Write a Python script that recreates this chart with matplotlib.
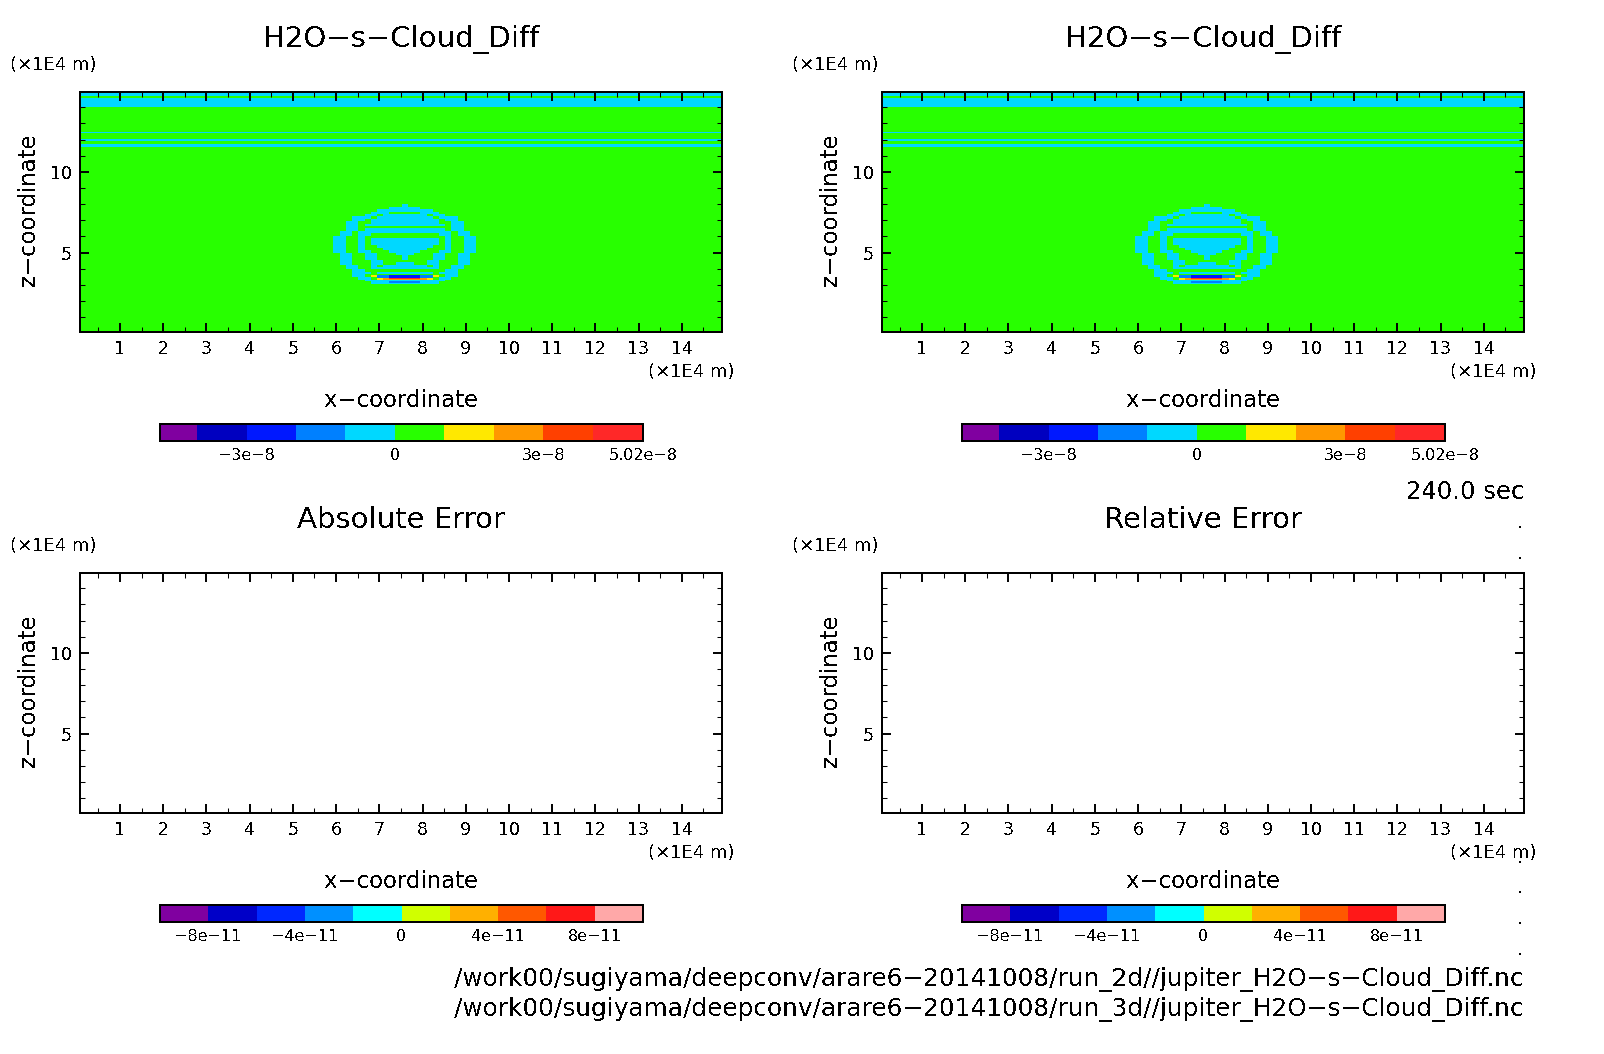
import numpy as np
import matplotlib
matplotlib.use('Agg')
import matplotlib.pyplot as plt
from matplotlib.cm import ScalarMappable
from matplotlib.colors import ListedColormap, BoundaryNorm
from matplotlib.ticker import FixedLocator

plt.rcParams['font.family'] = ['DejaVu Sans']
plt.rcParams['text.antialiased'] = False
plt.rcParams['lines.antialiased'] = False
plt.rcParams['patch.antialiased'] = False

W, H = 1604, 1054

# upper colour scale
levels_top = [-4.75e-8, -4e-8, -3e-8, -2e-8, -1e-8, 0, 1e-8, 2e-8, 3e-8, 4e-8, 5.02e-8]
colors_top = ['#8000a0', '#0000c0', '#0018ff', '#0080ff', '#00d8ff',
              '#28ff00', '#ffe800', '#ff9800', '#ff4000', '#ff2828']
ticks_top = [-3e-8, 0, 3e-8, 5.02e-8]
ticklabels_top = ['\u22123e\u22128', '0', '3e\u22128', '5.02e\u22128']

# lower colour scale
levels_err = [-1e-10, -8e-11, -6e-11, -4e-11, -2e-11, 0, 2e-11, 4e-11, 6e-11, 8e-11, 1e-10]
colors_err = ['#8000a0', '#0000c8', '#0028ff', '#0090ff', '#00ffff',
              '#d0ff00', '#ffb000', '#ff5800', '#ff1818', '#ffa8a8']
ticks_err = [-8e-11, -4e-11, 0, 4e-11, 8e-11]
ticklabels_err = ['\u22128e\u221211', '\u22124e\u221211', '0', '4e\u221211', '8e\u221211']

# horizontal bands of the field, z in 1E4 m
band_edges = [-0.2, 11.53, 11.72, 11.9, 12.04, 12.38, 12.48, 14.0, 14.6, 14.72, 15.0]
band_values = [0.5e-8, -0.5e-8, 0.5e-8, -0.5e-8, 0.5e-8, -0.5e-8, 0.5e-8, -0.5e-8, 0.5e-8, -0.5e-8]

# cloud cells, top row first, digit = colour index of the upper scale
cloud_rows = [
    '55555555555455555555555',
    '55555555544444555555555',
    '55555554444444445555555',
    '55555544455555444555555',
    '55555445444444454455555',
    '55544454444444445444555',
    '55544544444444444544555',
    '55445544444444444554455',
    '55445444444444444454455',
    '55445555555555555554455',
    '55445444444444444454455',
    '54454444444444444445445',
    '54454455555555555445445',
    '44554555555555555545544',
    '44554544444444444545544',
    '44554544444444444545544',
    '44554544444444444545544',
    '44554554444444445545544',
    '44554555444444455545544',
    '44554455544444555445544',
    '54455445554445554455445',
    '54455445555455554455445',
    '54455445555455554455445',
    '54455544555555544555445',
    '54455544554445544555445',
    '55445545444444454554455',
    '55445544444444444554455',
    '55544555555555555544555',
    '55544454444444445444555',
]
# the thin rain streak at the cloud base has rows half as tall
streak_rows = [
    '55544555555555555544555',
    '55544563322222336544555',
    '55554453322222335445555',
    '55554456799999765445555',
    '55554456777777765445555',
    '55555444444444444455555',
    '55555544433333444555555',
    '55555544444444444555555',
]
cloud_x0 = 5.94
cloud_dx = 0.1435
cloud_ztop = 7.985
cloud_dz = 0.149

x_ticks = list(range(1, 15))
x_minor = [i + 0.5 for i in range(0, 15)]
z_ticks = [5, 10]
z_minor = list(range(1, 15))

dot_rows = [527, 558, 862, 892, 923, 954]

fig = plt.figure(figsize=(W / 100, H / 100), dpi=100)


def ftext(px, py, s, **kw):
    kw.setdefault('ha', 'center')
    kw.setdefault('va', 'center')
    fig.text(px / W, 1 - py / H, s, **kw)


def draw_cells(ax, rows, ztop, dz, cmap, norm):
    mids = [(levels_top[i] + levels_top[i + 1]) / 2 for i in range(len(colors_top))]
    cells = np.array([[mids[int(c)] for c in row] for row in rows])
    xc = cloud_x0 + cloud_dx * np.arange(cells.shape[1] + 1)
    zc = ztop - dz * np.arange(cells.shape[0] + 1)
    ax.pcolormesh(xc, zc, cells, cmap=cmap, norm=norm)


def draw_field(ax, cmap, norm):
    vals = np.array(band_values).reshape(-1, 1)
    ax.pcolormesh([0.0, 15.0], band_edges, vals, cmap=cmap, norm=norm)
    draw_cells(ax, cloud_rows, cloud_ztop, cloud_dz, cmap, norm)
    streak_top = cloud_ztop - cloud_dz * len(cloud_rows)
    draw_cells(ax, streak_rows, streak_top, cloud_dz / 2, cmap, norm)


def panel(ox, oy, title, levels, colors, ticks, ticklabels, field):
    left, right, top, bottom = 80 + ox, 722 + ox, 92 + oy, 332 + oy
    ax = fig.add_axes([left / W, 1 - bottom / H, (right - left) / W, (bottom - top) / H])
    cmap = ListedColormap(colors)
    norm = BoundaryNorm(levels, cmap.N)
    if field:
        draw_field(ax, cmap, norm)
    ax.set_xlim(0.074, 14.93)
    ax.set_ylim(0.08, 14.95)
    ax.xaxis.set_major_locator(FixedLocator(x_ticks))
    ax.xaxis.set_minor_locator(FixedLocator(x_minor))
    ax.yaxis.set_major_locator(FixedLocator(z_ticks))
    ax.yaxis.set_minor_locator(FixedLocator(z_minor))
    ax.tick_params(which='major', direction='in', length=6.8, width=1.4,
                   top=True, right=True, labelsize=12.5, pad=6)
    ax.tick_params(which='minor', direction='in', length=3.4, width=0.75,
                   top=True, right=True)
    for s in ax.spines.values():
        s.set_linewidth(1.4)

    ftext(401 + ox, 39 + oy, title, fontsize=21)
    # the left unit label sits a little closer to the axis in the right column
    ftext(10 + (ox - 20 if ox else 0), 65 + oy, '(\u00d71E4 m)', fontsize=13, ha='left')
    ftext(735 + ox, 372 + oy, '(\u00d71E4 m)', fontsize=13, ha='right')
    ftext(28.5 + ox, 210 + oy, 'z\u2212coordinate', fontsize=16.4, rotation=90)
    ftext(401 + ox, 401 + oy, 'x\u2212coordinate', fontsize=16.4)

    cax = fig.add_axes([(160 + ox) / W, 1 - (441 + oy) / H, 483 / W, 17 / H])
    cb = fig.colorbar(ScalarMappable(norm=norm, cmap=cmap), cax=cax,
                      orientation='horizontal', spacing='proportional', ticks=ticks)
    cb.ax.set_xticklabels(ticklabels)
    cb.ax.tick_params(length=0, labelsize=11.5, pad=5)
    cb.ax.minorticks_off()
    cb.outline.set_linewidth(1.4)


panel(0, 0, 'H2O\u2212s\u2212Cloud_Diff', levels_top, colors_top, ticks_top, ticklabels_top, True)
panel(802, 0, 'H2O\u2212s\u2212Cloud_Diff', levels_top, colors_top, ticks_top, ticklabels_top, True)
panel(0, 481, 'Absolute Error', levels_err, colors_err, ticks_err, ticklabels_err, False)
panel(802, 481, 'Relative Error', levels_err, colors_err, ticks_err, ticklabels_err, False)

ftext(1524, 492, '240.0 sec', fontsize=17.5, ha='right')
ftext(1524, 980, '/work00/sugiyama/deepconv/arare6\u221220141008/run_2d//jupiter_H2O\u2212s\u2212Cloud_Diff.nc',
      fontsize=17.8, ha='right')
ftext(1524, 1010, '/work00/sugiyama/deepconv/arare6\u221220141008/run_3d//jupiter_H2O\u2212s\u2212Cloud_Diff.nc',
      fontsize=17.8, ha='right')
for py in dot_rows:
    ftext(1520, py - 4, '.', fontsize=12)

fig.savefig('out.png', dpi=100)
